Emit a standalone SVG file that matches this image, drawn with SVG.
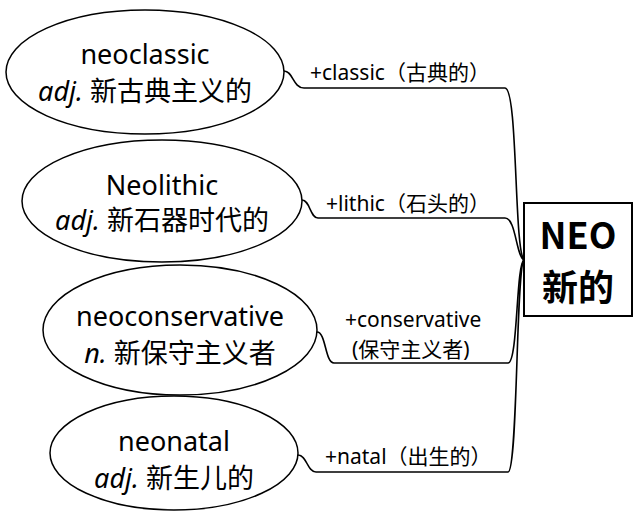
<svg xmlns="http://www.w3.org/2000/svg" width="634" height="512" viewBox="0 0 634 512">
<style>
.e{fill:#fff;stroke:#000;stroke-width:1.5}
.t{font-family:"Noto Sans","Noto Sans CJK SC",sans-serif;font-size:27px;fill:#000;text-anchor:middle}
.i{font-style:italic}
.l{font-family:"Noto Sans","Noto Sans CJK SC",sans-serif;font-size:21px;fill:#000}
.c{fill:none;stroke:#000;stroke-width:1.6}
.b{font-family:"Noto Sans CJK SC",sans-serif;font-weight:bold;font-size:36px;fill:#000;text-anchor:middle}
</style>
<rect width="634" height="512" fill="#fff"/>
<g id="connectors">
<path class="c" d="M284,71 C293,71 293,88 304,88 L505,88 C518,88 514,250 524,260"/>
<path class="c" d="M302,200 C310,200 310,218 318,218 L505,218 C516,218 516,256 524,260"/>
<path class="c" d="M317,332 C326,332 325,363 334,363 L508,363 C518,363 516,264 524,260"/>
<path class="c" d="M298,455 C307,455 307,472 316,472 L508,472 C518,472 516,264 524,260"/>
</g>
<g id="labels">
<text class="l" x="310" y="80">+classic（古典的）</text>
<text class="l" x="326" y="211">+lithic（石头的）</text>
<text class="l" x="345" y="327">+conservative</text>
<text class="l" x="352" y="357">(保守主义者)</text>
<text class="l" x="325" y="464">+natal（出生的）</text>
</g>
<g id="n1">
<ellipse class="e" cx="145" cy="72" rx="139" ry="62"/>
<text class="t" x="145" y="64">neoclassic</text>
<text class="t" x="145" y="101"><tspan class="i">adj.</tspan> 新古典主义的</text>
</g>
<g id="n2">
<ellipse class="e" cx="162" cy="201" rx="140" ry="61"/>
<text class="t" x="162" y="195">Neolithic</text>
<text class="t" x="162" y="230"><tspan class="i">adj.</tspan> 新石器时代的</text>
</g>
<g id="n3">
<ellipse class="e" cx="180" cy="330" rx="137" ry="65"/>
<text class="t" x="180" y="326">neoconservative</text>
<text class="t" x="180" y="363"><tspan class="i">n.</tspan> 新保守主义者</text>
</g>
<g id="n4">
<ellipse class="e" cx="174" cy="453" rx="124" ry="57"/>
<text class="t" x="174" y="451">neonatal</text>
<text class="t" x="174" y="488"><tspan class="i">adj.</tspan> 新生儿的</text>
</g>
<g id="neo">
<rect x="524" y="203" width="108" height="113" fill="#fff" stroke="#000" stroke-width="2"/>
<text class="b" x="578" y="249">NEO</text>
<text class="b" x="578" y="301">新的</text>
</g>
</svg>
